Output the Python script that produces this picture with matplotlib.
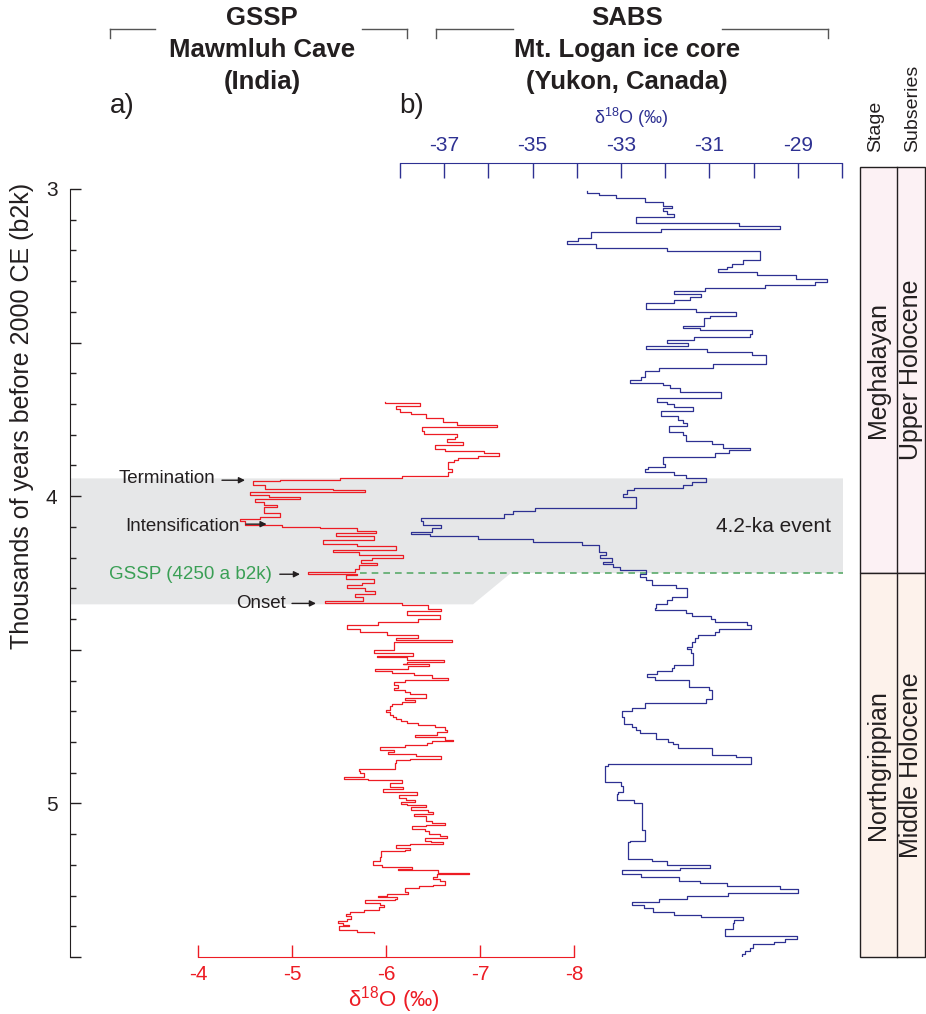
import numpy as np
import matplotlib
matplotlib.use('Agg')
import matplotlib.pyplot as plt
from matplotlib.patches import Polygon, Rectangle
from matplotlib.lines import Line2D

plt.rcParams['font.family'] = ['Liberation Sans', 'DejaVu Sans']
plt.rcParams['mathtext.fontset'] = 'custom'
plt.rcParams['mathtext.rm'] = 'Liberation Sans'
plt.rcParams['axes.unicode_minus'] = False

# --- data (ages in ka b2k) ---
# Mawmluh Cave, d18O (per mil) held over age intervals [previous end, end]
mawmluh_top = 3.694
mawmluh_end = [
    3.696, 3.706, 3.717, 3.725, 3.733, 3.744, 3.760, 3.767, 3.776, 3.787,
    3.798, 3.807, 3.815, 3.825, 3.834, 3.845, 3.852, 3.861, 3.870, 3.877,
    3.883, 3.888, 3.910, 3.921, 3.935, 3.940, 3.946, 3.950, 3.962, 3.975,
    3.980, 3.986, 3.997, 4.004, 4.010, 4.018, 4.029, 4.034, 4.056, 4.067,
    4.073, 4.080, 4.094, 4.100, 4.105, 4.113, 4.119, 4.130, 4.141, 4.154,
    4.163, 4.174, 4.181, 4.192, 4.201, 4.208, 4.216, 4.225, 4.236, 4.247,
    4.254, 4.257, 4.268, 4.282, 4.290, 4.300, 4.309, 4.317, 4.328, 4.341,
    4.349, 4.355, 4.366, 4.373, 4.388, 4.401, 4.409, 4.420, 4.431, 4.442,
    4.453, 4.461, 4.469, 4.476, 4.502, 4.509, 4.512, 4.520, 4.525, 4.534,
    4.540, 4.545, 4.547, 4.554, 4.561, 4.569, 4.574, 4.583, 4.592, 4.597,
    4.605, 4.613, 4.623, 4.630, 4.637, 4.643, 4.657, 4.665, 4.670, 4.676,
    4.684, 4.695, 4.703, 4.711, 4.719, 4.725, 4.732, 4.739, 4.745, 4.752,
    4.760, 4.768, 4.777, 4.784, 4.793, 4.797, 4.804, 4.811, 4.817, 4.825,
    4.833, 4.840, 4.846, 4.855, 4.860, 4.868, 4.887, 4.895, 4.901, 4.914,
    4.922, 4.925, 4.932, 4.945, 4.952, 4.963, 4.974, 4.982, 4.988, 4.994,
    5.001, 5.004, 5.012, 5.020, 5.028, 5.033, 5.042, 5.057, 5.063, 5.069,
    5.075, 5.083, 5.090, 5.099, 5.107, 5.112, 5.121, 5.126, 5.132, 5.137,
    5.145, 5.151, 5.156, 5.175, 5.186, 5.199, 5.206, 5.215, 5.218, 5.226,
    5.231, 5.240, 5.245, 5.254, 5.264, 5.270, 5.274, 5.289, 5.294, 5.300,
    5.305, 5.310, 5.316, 5.323, 5.330, 5.337, 5.346, 5.354, 5.359, 5.368,
    5.375, 5.383, 5.389, 5.395, 5.400, 5.411, 5.419, 5.421]
mawmluh_d18o = [
    -5.99, -6.36, -6.11, -6.15, -6.27, -6.43, -6.61, -6.75, -7.18, -6.38,
    -6.40, -6.75, -6.73, -6.65, -6.82, -6.52, -6.63, -7.04, -7.20, -6.98,
    -6.77, -6.72, -6.66, -6.70, -6.66, -6.17, -5.51, -4.87, -4.59, -4.71,
    -5.44, -5.78, -4.55, -4.75, -5.08, -4.61, -4.70, -4.84, -4.70, -4.87,
    -4.66, -4.45, -4.50, -4.89, -5.30, -5.69, -5.89, -5.47, -5.87, -5.33,
    -5.69, -6.11, -5.44, -5.71, -6.18, -5.85, -5.73, -5.90, -5.71, -5.67,
    -5.17, -5.69, -5.57, -5.87, -5.74, -5.58, -5.78, -5.88, -5.67, -5.76,
    -5.35, -6.17, -6.45, -6.59, -6.22, -6.57, -6.34, -5.92, -5.58, -5.72,
    -6.01, -6.34, -6.11, -6.70, -6.08, -5.87, -6.15, -6.29, -5.90, -6.22,
    -6.62, -6.22, -6.18, -6.46, -6.23, -5.88, -6.06, -6.30, -6.49, -6.66,
    -6.20, -6.08, -6.13, -6.09, -6.20, -6.26, -6.43, -6.20, -6.31, -6.17,
    -6.06, -6.04, -6.00, -6.04, -6.07, -6.11, -6.16, -6.22, -6.34, -6.52,
    -6.63, -6.65, -6.54, -6.31, -6.63, -6.71, -6.49, -6.44, -6.20, -5.94,
    -6.09, -6.02, -6.32, -6.59, -6.26, -6.11, -6.10, -5.71, -5.72, -5.77,
    -5.55, -5.81, -6.17, -6.04, -6.18, -5.97, -6.33, -6.14, -6.21, -6.31,
    -6.16, -6.22, -6.43, -6.27, -6.45, -6.50, -6.30, -6.43, -6.49, -6.63,
    -6.43, -6.28, -6.41, -6.46, -6.57, -6.65, -6.41, -6.48, -6.61, -6.26,
    -6.11, -6.26, -6.20, -5.95, -5.94, -5.86, -5.96, -6.28, -6.13, -6.55,
    -6.88, -6.54, -6.50, -6.57, -6.63, -6.50, -6.35, -6.20, -6.23, -6.01,
    -5.91, -6.12, -6.10, -5.78, -5.94, -5.98, -5.93, -5.77, -5.62, -5.57,
    -5.63, -5.58, -5.49, -5.54, -5.61, -5.50, -5.69, -5.87]

# Mt. Logan ice core, d18O (per mil)
logan_top = 3.005
logan_end = [
    3.012, 3.021, 3.030, 3.043, 3.054, 3.062, 3.072, 3.083, 3.091, 3.111,
    3.122, 3.131, 3.141, 3.161, 3.170, 3.180, 3.191, 3.201, 3.232, 3.243,
    3.253, 3.262, 3.271, 3.281, 3.292, 3.302, 3.312, 3.321, 3.332, 3.343,
    3.351, 3.360, 3.370, 3.392, 3.402, 3.413, 3.420, 3.445, 3.452, 3.460,
    3.472, 3.481, 3.492, 3.502, 3.511, 3.521, 3.532, 3.541, 3.571, 3.582,
    3.592, 3.611, 3.622, 3.631, 3.638, 3.649, 3.661, 3.681, 3.693, 3.701,
    3.711, 3.722, 3.740, 3.752, 3.761, 3.772, 3.790, 3.801, 3.821, 3.831,
    3.843, 3.850, 3.861, 3.872, 3.894, 3.904, 3.913, 3.921, 3.932, 3.942,
    3.953, 3.962, 3.972, 3.981, 3.992, 4.002, 4.038, 4.048, 4.059, 4.070,
    4.081, 4.093, 4.102, 4.117, 4.122, 4.130, 4.140, 4.149, 4.160, 4.181,
    4.192, 4.201, 4.214, 4.221, 4.232, 4.241, 4.254, 4.262, 4.273, 4.290,
    4.300, 4.328, 4.339, 4.350, 4.364, 4.371, 4.380, 4.391, 4.401, 4.409,
    4.420, 4.431, 4.442, 4.452, 4.461, 4.474, 4.491, 4.499, 4.512, 4.550,
    4.559, 4.569, 4.580, 4.589, 4.599, 4.621, 4.630, 4.659, 4.672, 4.689,
    4.699, 4.719, 4.741, 4.752, 4.760, 4.771, 4.789, 4.800, 4.808, 4.819,
    4.841, 4.849, 4.871, 4.879, 4.931, 4.942, 4.962, 4.971, 4.990, 5.000,
    5.088, 5.121, 5.126, 5.180, 5.189, 5.200, 5.210, 5.218, 5.231, 5.240,
    5.251, 5.260, 5.269, 5.279, 5.291, 5.301, 5.310, 5.321, 5.330, 5.341,
    5.352, 5.362, 5.371, 5.380, 5.390, 5.410, 5.432, 5.441, 5.450, 5.459,
    5.470, 5.481, 5.490, 5.500]
logan_d18o = [
    -33.78, -33.50, -33.12, -32.46, -32.06, -31.85, -32.06, -31.96, -31.80, -32.65,
    -30.33, -29.41, -32.10, -33.69, -33.98, -34.23, -33.56, -31.97, -29.86, -30.24,
    -30.48, -30.60, -30.81, -29.93, -29.05, -28.34, -28.62, -29.75, -31.09, -31.79,
    -31.18, -31.45, -31.79, -32.43, -31.31, -30.39, -30.99, -31.13, -31.60, -31.21,
    -30.03, -30.08, -31.35, -31.97, -31.48, -32.44, -31.05, -30.04, -29.71, -30.92,
    -32.14, -32.46, -32.55, -32.80, -32.06, -31.90, -31.67, -30.73, -32.18, -31.96,
    -31.79, -31.37, -32.09, -31.70, -31.60, -31.51, -31.91, -31.60, -31.54, -30.94,
    -30.69, -30.08, -30.56, -30.87, -32.05, -32.00, -32.38, -32.45, -31.81, -31.52,
    -31.07, -31.39, -31.60, -32.71, -32.86, -32.95, -32.67, -34.95, -35.44, -35.65,
    -37.53, -37.47, -37.07, -37.28, -37.75, -37.32, -36.23, -35.00, -33.89, -33.50,
    -33.35, -33.48, -33.20, -33.40, -33.18, -33.03, -32.43, -32.56, -32.43, -32.30,
    -31.75, -31.50, -31.85, -31.96, -32.20, -32.24, -31.54, -31.39, -30.96, -30.88,
    -30.15, -30.05, -30.78, -30.88, -31.26, -31.33, -31.39, -31.50, -31.42, -31.37,
    -31.79, -31.85, -32.18, -32.41, -32.22, -31.46, -31.01, -30.94, -31.07, -32.45,
    -32.76, -32.98, -32.93, -32.74, -32.67, -32.58, -32.20, -31.94, -31.82, -31.71,
    -30.94, -30.39, -30.07, -33.29, -33.37, -32.99, -32.95, -33.07, -33.09, -32.70,
    -32.52, -32.45, -32.80, -32.84, -32.30, -31.96, -30.99, -31.66, -32.98, -32.54,
    -31.69, -31.21, -30.60, -29.41, -29.00, -30.58, -31.50, -32.14, -32.74, -32.49,
    -32.27, -31.80, -31.18, -30.24, -30.45, -30.46, -30.64, -29.02, -29.28, -29.54,
    -30.02, -30.08, -30.20, -30.26]

age_ticks = [3, 3.5, 4, 4.5, 5, 5.5]
age_labels = ['3', '', '4', '', '5', '']
red_ticks = [-4, -5, -6, -7, -8]
blue_major = [-37, -35, -33, -31, -29]
blue_minor = [-38, -36, -34, -32, -30, -28]

event_top, event_bottom, gssp_age = 3.942, 4.352, 4.25
stage_top = 2.928
stages = ['Meghalayan', 'Northgrippian']
subseries = ['Upper Holocene', 'Middle Holocene']
stage_bounds = [stage_top, gssp_age, 5.5]
stage_colors = ['#fcf1f4', '#fdf2eb']

RED = '#ed1c24'
BLUE = '#2e3192'
GREEN = '#3a9f55'
DARK = '#231f20'

W, H = 926, 1014
def fx(px):
    return px / W
def fy(py):
    return 1 - py / H


def steps(top, ends, vals):
    b = np.concatenate([[top], ends])
    y = np.repeat(b, 2)[1:-1]
    x = np.repeat(vals, 2)
    return x, y


fig = plt.figure(figsize=(W / 100, H / 100), dpi=100)
bottom, height = fy(957), (957 - 189) / H

# main axis with the age scale
ax = fig.add_axes([fx(70), bottom, (843 - 70) / W, height], zorder=1)
ax.set_xlim(0, 1)
ax.set_ylim(5.5, 3)
for s in ['top', 'right', 'bottom']:
    ax.spines[s].set_visible(False)
ax.spines['left'].set_color(DARK)
ax.set_xticks([])
ax.set_yticks(age_ticks, labels=age_labels)
ax.set_yticks(np.arange(3, 5.5, 0.1), minor=True)
ax.tick_params(axis='y', which='major', direction='in', length=8, width=1,
               labelsize=15, pad=9, colors=DARK)
ax.tick_params(axis='y', which='minor', direction='in', length=4.5, width=1,
               colors=DARK)

# 4.2-ka event band
band = Polygon([(0, event_top), (1, event_top), (1, gssp_age), (0.5705, gssp_age),
                (0.5213, event_bottom), (0, event_bottom)],
               closed=True, facecolor='#e6e7e8', edgecolor='none', zorder=0)
ax.add_patch(band)
ax.plot([0.375, 1], [gssp_age, gssp_age], color='#5aaa6a', lw=1.2,
        dashes=(4, 3), zorder=1)
ax.text(0.985, 4.1, '4.2-ka event', ha='right', va='center', fontsize=15,
        color=DARK)

# red axis: Mawmluh Cave
axr = fig.add_axes([fx(198), bottom, (574 - 198) / W, height], zorder=2,
                   facecolor='none')
axr.set_xlim(-4, -8)
axr.set_ylim(5.5, 3)
for s in ['top', 'right', 'left']:
    axr.spines[s].set_visible(False)
axr.spines['bottom'].set_color(RED)
axr.set_yticks([])
axr.set_xticks(red_ticks, labels=[str(t) for t in red_ticks])
axr.tick_params(axis='x', direction='in', length=8.6, width=1, colors=RED,
                labelsize=15, pad=6)
x, y = steps(mawmluh_top, mawmluh_end, mawmluh_d18o)
axr.plot(x, y, color=RED, lw=0.9)

# blue axis: Mt. Logan
axb = fig.add_axes([fx(400), bottom, (842 - 400) / W, height], zorder=3,
                   facecolor='none')
axb.set_xlim(-38, -28)
axb.set_ylim(5.5, 3)
for s in ['bottom', 'right', 'left']:
    axb.spines[s].set_visible(False)
axb.spines['top'].set_color(BLUE)
axb.spines['top'].set_position(('outward', 26 * 0.72))
axb.xaxis.tick_top()
axb.set_yticks([])
axb.set_xticks(blue_major, labels=[str(t) for t in blue_major])
axb.set_xticks(blue_minor, minor=True)
axb.tick_params(axis='x', which='both', direction='in', length=10.8, width=1,
                colors=BLUE, labelsize=15, pad=6)
x, y = steps(logan_top, logan_end, logan_d18o)
axb.plot(x, y, color=BLUE, lw=0.9)

# annotations on the Mawmluh record
notes = [('Termination', -4.18, 3.942, -4.255, -4.50, 3.948, DARK),
         ('Intensification', -4.447, 4.098, -4.51, -4.73, 4.091, DARK),
         ('GSSP (4250 a b2k)', -4.787, 4.254, -4.87, -5.085, 4.254, GREEN),
         ('Onset', -4.93, 4.349, -5.0, -5.255, 4.349, DARK)]
for label, tx, ty, a0, a1, ay, c in notes:
    axr.text(tx, ty, label, ha='right', va='center', fontsize=13.5, color=c,
             clip_on=False)
    axr.annotate('', xy=(a1, ay), xytext=(a0, ay), annotation_clip=False,
                 arrowprops=dict(arrowstyle='-|>', color=DARK, lw=1,
                                 mutation_scale=9, shrinkA=0, shrinkB=0))

# stage / subseries column
axs = fig.add_axes([fx(860), bottom, (925 - 860) / W, (957 - 167) / H])
axs.set_xlim(0, 1)
axs.set_ylim(5.5, stage_top)
axs.axis('off')
for i in range(2):
    y0, y1 = stage_bounds[i], stage_bounds[i + 1]
    axs.add_patch(Rectangle((0, y0), 1, y1 - y0, facecolor=stage_colors[i],
                            edgecolor=DARK, lw=1, clip_on=False))
    axs.text(0.28, (y0 + y1) / 2, stages[i], rotation=90, ha='center',
             va='center', fontsize=18, color=DARK)
    axs.text(0.785, (y0 + y1) / 2, subseries[i], rotation=90, ha='center',
             va='center', fontsize=18, color=DARK)
axs.plot([0.569, 0.569], [stage_top, 5.5], color=DARK, lw=1, clip_on=False)
fig.text(fx(876), fy(152), 'Stage', rotation=90, ha='center', va='bottom',
         fontsize=14, color=DARK)
fig.text(fx(913), fy(152), 'Subseries', rotation=90, ha='center', va='bottom',
         fontsize=14, color=DARK)

# axis labels
fig.text(fx(22), fy(416), 'Thousands of years before 2000 CE (b2k)', rotation=90,
         ha='center', va='center', fontsize=18, color=DARK)
fig.text(fx(631), fy(118), r'δ$^{18}$O (‰)', ha='center', va='center',
         fontsize=13, color=BLUE)
fig.text(fx(394), fy(1000), r'δ$^{18}$O (‰)', ha='center', va='center',
         fontsize=16, color=RED)

# headers
fig.text(fx(262), fy(18), 'GSSP', ha='center', va='center', fontsize=18.5,
         fontweight='bold', color=DARK)
fig.text(fx(262), fy(50), 'Mawmluh Cave', ha='center', va='center',
         fontsize=18.5, fontweight='bold', color=DARK)
fig.text(fx(262), fy(82), '(India)', ha='center', va='center', fontsize=18.5,
         fontweight='bold', color=DARK)
fig.text(fx(627), fy(18), 'SABS', ha='center', va='center', fontsize=18.5,
         fontweight='bold', color=DARK)
fig.text(fx(627), fy(50), 'Mt. Logan ice core', ha='center', va='center',
         fontsize=18.5, fontweight='bold', color=DARK)
fig.text(fx(627), fy(82), '(Yukon, Canada)', ha='center', va='center',
         fontsize=18.5, fontweight='bold', color=DARK)
fig.text(fx(110), fy(106), 'a)', ha='left', va='center', fontsize=20, color=DARK)
fig.text(fx(399), fy(106), 'b)', ha='left', va='center', fontsize=20, color=DARK)

for xa, xb in [(110, 155), (362, 407), (436, 513), (722, 828)]:
    xs = [fx(xa), fx(xb)]
    fig.add_artist(Line2D(xs, [fy(29), fy(29)], color='#555555', lw=1))
for xe in [110, 407, 436, 828]:
    fig.add_artist(Line2D([fx(xe), fx(xe)], [fy(29), fy(38)], color='#555555', lw=1))

fig.savefig('out.png', dpi=100)
